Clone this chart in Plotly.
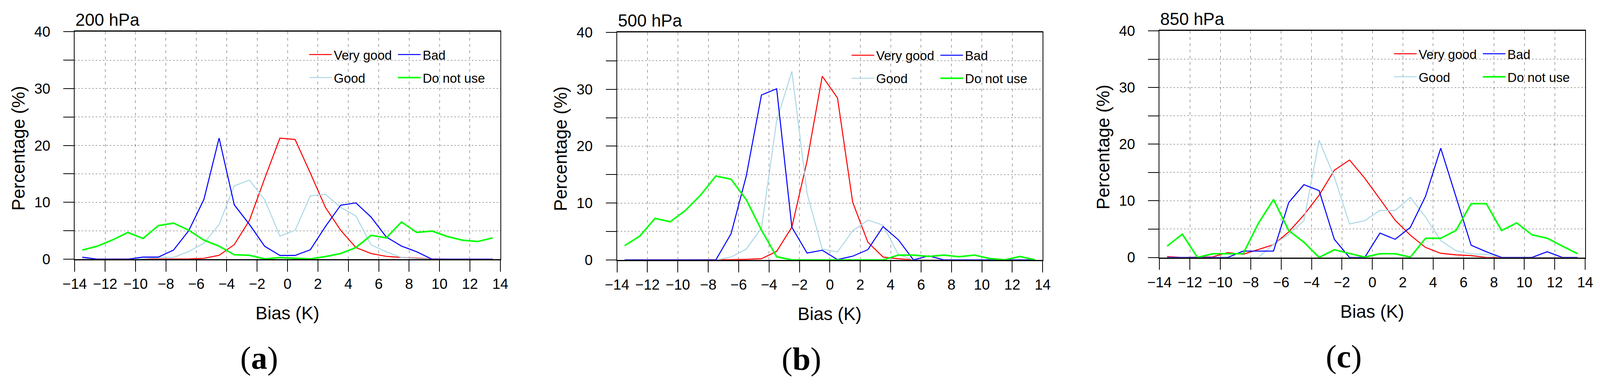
import plotly.graph_objects as go

# the page is laid out 4096 css px wide, the reference picture is 4377 px wide
ref_width = 4377
page_width = 4096
sx = page_width / ref_width
body_margin = 8
fig_width = page_width - 2 * body_margin
fig_height = 994 - 2 * body_margin

# bin centres of the bias histogram (K)
bias = [-13.5, -12.5, -11.5, -10.5, -9.5, -8.5, -7.5, -6.5, -5.5, -4.5, -3.5, -2.5, -1.5, -0.5,
        0.5, 1.5, 2.5, 3.5, 4.5, 5.5, 6.5, 7.5, 8.5, 9.5, 10.5, 11.5, 12.5, 13.5]
x_ticks = [-14, -12, -10, -8, -6, -4, -2, 0, 2, 4, 6, 8, 10, 12, 14]
y_ticks = [0, 5, 10, 15, 20, 25, 30, 35, 40]
y_tick_text = ['0', '', '10', '', '20', '', '30', '', '40']

levels = ['200 hPa', '500 hPa', '850 hPa']
tags = ['a', 'b', 'c']

# 200 hPa
very_good_200 = [0, 0, 0, 0, 0.02, 0, 0, 0.05, 0.15, 0.69, 2.56, 6.86, 14.2, 21.28,
                 21.05, 15.15, 9.08, 5.08, 2.05, 1.0, 0.5, 0.3, 0.18, 0.05, 0, 0, 0, 0]
good_200 = [0, 0, 0, 0, 0.1, 0.3, 0.3, 1.35, 2.8, 6.1, 12.9, 13.9, 10.46, 4.05,
            5.08, 11.14, 11.4, 9.1, 7.6, 2.5, 1.3, 0.3, 0.1, 0, 0, 0, 0, 0]
bad_200 = [0.35, 0, 0, 0, 0.37, 0.37, 1.6, 5.0, 10.5, 21.3, 9.55, 6.1, 2.27, 0.66,
           0.66, 1.65, 5.77, 9.5, 9.9, 7.4, 3.9, 2.3, 1.3, 0, 0, 0, 0, 0]
do_not_use_200 = [1.6, 2.3, 3.4, 4.7, 3.65, 5.9, 6.35, 5.1, 3.35, 2.29, 0.78, 0.69, 0.05, 0.27,
                  0.16, 0.05, 0.46, 1.0, 2.05, 4.2, 3.75, 6.55, 4.7, 4.95, 4.0, 3.35, 3.1, 3.75]

# 500 hPa
very_good_500 = [0, 0, 0, 0, 0, 0, 0, 0.05, 0.1, 0.2, 1.5, 5.75, 17.4, 32.3,
                 28.5, 10.15, 3.1, 0.5, 0.2, 0, 0, 0, 0, 0, 0, 0, 0, 0]
good_500 = [0, 0, 0, 0, 0, 0, 0, 0.5, 1.9, 5.6, 24.5, 33.15, 11.7, 1.9,
            1.4, 5.1, 7.0, 6.1, 0.95, 0, 0, 0, 0, 0, 0, 0, 0, 0]
bad_500 = [0, 0, 0, 0, 0, 0, 0, 4.6, 14.75, 29.0, 30.1, 5.75, 1.2, 1.7,
           0.05, 0.65, 1.8, 5.85, 3.55, 0, 0.7, 0, 0, 0, 0, 0, 0, 0]
do_not_use_500 = [2.5, 4.2, 7.3, 6.7, 8.7, 11.4, 14.75, 14.2, 10.6, 5.25, 0.55, 0, 0, 0,
                  0, 0, 0, 0, 0.85, 0.85, 0.6, 0.85, 0.55, 0.85, 0.25, 0, 0.6, 0]

# 850 hPa
very_good_850 = [0.15, 0, 0.05, 0.1, 0.85, 0.55, 1.4, 2.26, 4.5, 7.5, 11.0, 15.4, 17.2, 14.0,
                 10.3, 6.57, 3.93, 1.76, 0.73, 0.46, 0.32, 0, 0, 0, 0, 0, 0, 0]
good_850 = [0, 0, 0, 0, 0, 0, 0, 2.3, 4.06, 6.5, 20.7, 14.2, 5.92, 6.5,
            8.3, 8.3, 10.6, 7.14, 2.97, 1.19, 0.62, 0.55, 0, 0, 0, 0, 0, 0]
bad_850 = [0, 0, 0, 0, 0, 1.12, 1.12, 1.12, 9.7, 12.85, 11.8, 3.2, 0, 0,
           4.3, 3.2, 5.3, 10.8, 19.3, 10.7, 2.15, 1.0, 0, 0, 0, 1.0, 0, 0]
do_not_use_850 = [2.0, 4.1, 0, 0.65, 0.65, 0.65, 6.0, 10.23, 4.75, 2.68, 0, 1.35, 0.7, 0.05,
                  0.66, 0.66, 0.05, 3.38, 3.38, 4.75, 9.5, 9.5, 4.75, 6.1, 4.0, 3.4, 2.0, 0.65]

panel_data = [
    {'Very good': very_good_200, 'Good': good_200, 'Bad': bad_200, 'Do not use': do_not_use_200},
    {'Very good': very_good_500, 'Good': good_500, 'Bad': bad_500, 'Do not use': do_not_use_500},
    {'Very good': very_good_850, 'Good': good_850, 'Bad': bad_850, 'Do not use': do_not_use_850},
]

# class name -> (colour, line width, legend column, legend row)
styles = {
    'Very good': ('#ff0000', 2.6, 0, 0),
    'Good': ('#add8e6', 2.6, 0, 1),
    'Bad': ('#0000ff', 2.6, 1, 0),
    'Do not use': ('#00ff00', 4.0, 1, 1),
}

# plot boxes in reference pixels: left, right, top, bottom
boxes = [(204.3, 1368.7, 81.3, 664.0), (1688.0, 2852.4, 83.1, 665.8), (3172.0, 4336.4, 79.3, 659.5)]

font_name = 'Liberation Sans'


def px_x(v):
    # reference x pixel -> paper fraction
    return (v * sx - body_margin) / fig_width


def px_y(v):
    # reference y pixel -> paper fraction
    return 1 - (v - body_margin) / fig_height


def note(text, x, y, size, family=font_name, **kw):
    return dict(text=text, x=px_x(x), y=px_y(y), xref='paper', yref='paper', showarrow=False,
                font=dict(family=family, size=size, color='black'), **kw)


fig = go.Figure()
layout = {}
annotations = []
legend_no = 0

for i, (left, right, top, bottom) in enumerate(boxes):
    suffix = '' if i == 0 else str(i + 1)
    xname = 'x' + suffix
    yname = 'y' + suffix

    for name in ['Very good', 'Good', 'Bad', 'Do not use']:
        color, width, col, row = styles[name]
        legend_no += 1
        legend_key = 'legend' if legend_no == 1 else 'legend' + str(legend_no)
        fig.add_trace(go.Scatter(x=bias, y=panel_data[i][name], mode='lines', name=name,
                                 line=dict(color=color, width=width), xaxis=xname, yaxis=yname,
                                 legend=legend_key, showlegend=True))
        line_start = left + 665 + 243 * col
        layout[legend_key] = dict(
            x=px_x(line_start) - 27 / fig_width, y=px_y(top + 58.5 + 59 * row),
            xanchor='left', yanchor='middle', orientation='h',
            bgcolor='rgba(0,0,0,0)', borderwidth=0, itemwidth=58,
            font=dict(family=font_name, size=33, color='black'))

    layout['xaxis' + suffix] = dict(
        domain=[px_x(left), px_x(right)], anchor=yname, range=[-14, 14], automargin=False,
        tickvals=x_ticks, ticks='outside', ticklen=29, tickwidth=2, tickcolor='black',
        tickfont=dict(family=font_name, size=37, color='black'),
        showline=True, linecolor='black', linewidth=2.5, mirror=True,
        showgrid=True, gridcolor='#555555', gridwidth=1.3, griddash='7px,9px',
        zeroline=False, fixedrange=True)
    layout['yaxis' + suffix] = dict(
        domain=[px_y(bottom), px_y(top)], anchor=xname, range=[0, 40], automargin=False,
        tickvals=y_ticks, ticktext=y_tick_text, ticks='outside', ticklen=27, tickwidth=2,
        tickcolor='black', tickfont=dict(family=font_name, size=37, color='black'),
        ticklabelstandoff=26,
        showline=True, linecolor='black', linewidth=2, mirror=True,
        showgrid=True, gridcolor='#555555', gridwidth=1.3, griddash='4px,5px',
        zeroline=False, fixedrange=True)

    centre = (left + right) / 2
    annotations.append(note(levels[i], left, top - 4, 44, xanchor='left', yanchor='bottom'))
    annotations.append(note('Bias (K)', centre, bottom + 138, 46, xanchor='center', yanchor='middle'))
    annotations.append(note('Percentage (%)', left - 154, (top + bottom) / 2 + 7, 46,
                            xanchor='center', yanchor='middle', textangle=-90))
    annotations.append(note('(<b>' + tags[i] + '</b>)', centre - 78, bottom + 253, 83,
                            family='Liberation Serif', xanchor='center', yanchor='middle'))

fig.update_layout(
    width=fig_width, height=fig_height,
    margin=dict(l=0, r=0, t=0, b=0, autoexpand=False),
    paper_bgcolor='white', plot_bgcolor='white',
    annotations=annotations,
    **layout)

fig.write_html("out.html")
